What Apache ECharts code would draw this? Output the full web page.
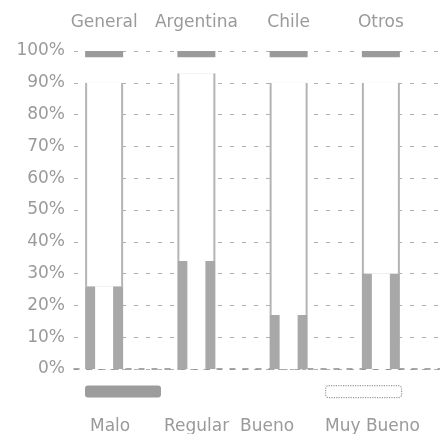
<!DOCTYPE html>
<html><head><meta charset="utf-8">
<script src="https://cdn.jsdelivr.net/npm/echarts@6/dist/echarts.min.js"></script>
<style>html,body{margin:0;padding:0;background:#fff}#c{width:440px;height:434px}</style>
</head><body><div id="c"></div>
<script>
const categories = ['General', 'Argentina', 'Chile', 'Otros'];
const seriesNames = ['Malo', 'Regular', 'Bueno', 'Muy Bueno'];
const malo = [26, 34, 17, 30];
const regular = [64, 59, 73, 60];
const bueno = [8, 5, 8, 8];
const muyBueno = [2, 2, 2, 2];
const yTicks = [0, 10, 20, 30, 40, 50, 60, 70, 80, 90, 100];

const FONT = 'DejaVu Sans';
const TXT = '#9a9a9a';
const chart = echarts.init(document.getElementById('c'));
const hidden = {show: false};
const yHidden = {type: 'value', gridIndex: 0, min: 0, max: 100, interval: 10, show: false};
const textLegendLeft = [80, 154, 230, 315];

const iconLegend = {left: 80, top: 380, orient: 'horizontal', itemWidth: 76, itemHeight: 12, itemGap: 4,
  selectedMode: false, formatter: () => '', textStyle: {fontSize: 1},
  data: [
    {name: seriesNames[0], itemStyle: {color: '#9c9c9c'}},
    {name: seriesNames[1], itemStyle: {color: 'rgba(0,0,0,0)'}},
    {name: seriesNames[2], itemStyle: {color: 'rgba(0,0,0,0)'}},
    {name: seriesNames[3], itemStyle: {color: '#fff', borderColor: '#9a9a9a', borderWidth: 1.2, borderType: 'dotted'}}
  ]};
const textLegends = seriesNames.map((n, i) => ({
  left: textLegendLeft[i], top: 413, itemWidth: 0, itemHeight: 0, selectedMode: false, icon: 'rect',
  textStyle: {color: TXT, fontFamily: FONT, fontSize: 17},
  data: [{name: n, itemStyle: {color: 'rgba(0,0,0,0)'}}]
}));

chart.setOption({
  animation: false,
  grid: [
    {left: 58, right: 13, top: 51, bottom: 65},
    {left: 74, right: 0, top: 51, bottom: 65}
  ],
  xAxis: [
    {type: 'category', gridIndex: 0, position: 'top', data: categories,
     axisLine: hidden, axisTick: hidden,
     axisLabel: {color: TXT, fontFamily: FONT, fontSize: 17, margin: 20, interval: 0}},
    {type: 'category', gridIndex: 0, data: categories, show: false},
    {type: 'category', gridIndex: 0, data: categories, show: false},
    {type: 'category', gridIndex: 1, data: categories,
     axisLabel: hidden, axisTick: hidden,
     axisLine: {show: true, lineStyle: {color: '#8a8a8a', width: 1.5, type: [5, 8]}}}
  ],
  yAxis: [
    yHidden,
    {type: 'value', gridIndex: 1, min: yTicks[0], max: yTicks[yTicks.length - 1], interval: 10,
     axisLine: hidden, axisTick: hidden,
     axisLabel: {color: TXT, fontFamily: FONT, fontSize: 17, margin: 9, formatter: '{value}%'},
     splitLine: {show: true, lineStyle: {color: '#b0b0b0', width: 1.2, type: [4, 8]}}}
  ],
  legend: [iconLegend].concat(textLegends),
  series: [
    {name: seriesNames[0], type: 'bar', stack: 'total', xAxisIndex: 0, yAxisIndex: 0, barWidth: 38,
     data: malo, itemStyle: {color: '#a8a8a8'}},
    {name: seriesNames[1], type: 'bar', stack: 'total', xAxisIndex: 0, yAxisIndex: 0, barWidth: 38,
     data: regular, itemStyle: {color: '#b4b4b4'}},
    {name: seriesNames[2], type: 'bar', stack: 'total', xAxisIndex: 0, yAxisIndex: 0, barWidth: 38,
     data: bueno, itemStyle: {color: '#fff'}},
    {name: seriesNames[3], type: 'bar', stack: 'total', xAxisIndex: 0, yAxisIndex: 0, barWidth: 38,
     data: muyBueno, itemStyle: {color: '#9a9a9a'}},
    // white inner masks to leave only the bar edges visible
    {name: 'mask1', type: 'bar', xAxisIndex: 1, yAxisIndex: 0, barWidth: 18, silent: true, z: 3,
     data: malo, itemStyle: {color: '#fff'}},
    {name: 'maskBase', type: 'bar', stack: 'm2', xAxisIndex: 2, yAxisIndex: 0, barWidth: 34, silent: true, z: 3,
     data: malo, itemStyle: {color: 'rgba(0,0,0,0)'}},
    {name: 'mask2', type: 'bar', stack: 'm2', xAxisIndex: 2, yAxisIndex: 0, barWidth: 34, silent: true, z: 3,
     data: regular, itemStyle: {color: '#fff'}}
  ]
});
</script>
</body></html>
